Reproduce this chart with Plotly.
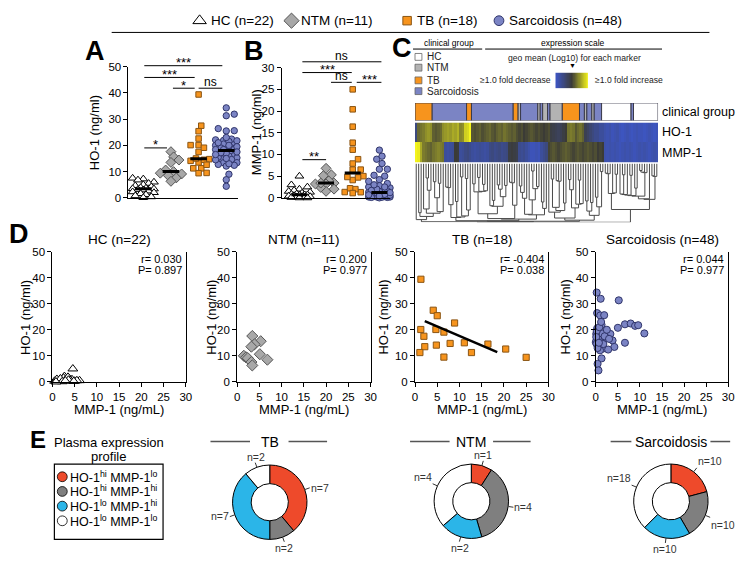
import numpy as np
import plotly.graph_objects as go

W, H = 751, 564
FONT = 'Liberation Sans, Arial, sans-serif'

# ---------------- data ----------------
groups = ['HC', 'NTM', 'TB', 'Sarcoidosis']
group_n = [22, 11, 18, 48]

# Panel A/B strip values (HC)
ho1_hc_strip = [7.5, 7.2, 6.8, 6.0, 5.5, 5.0, 4.6, 4.2, 3.9, 3.7, 3.5, 3.4, 3.2, 3.0, 2.6, 2.3, 2.0, 1.6, 1.2, 0.8, 0.4, 0.1]
mmp1_hc_strip = [5.0, 3.0, 2.5, 2.0, 1.7, 1.5, 1.3, 1.1, 0.9, 0.8, 0.7, 0.7, 0.6, 0.5, 0.4, 0.3, 0.3, 0.2, 0.1, 0.1, 0.0, 0.0]
# Panel D HC correlation values
mmp1_hc_corr = [4.6, 2.7, 1.5, 3.8, 4.4, 6.1, 0.5, 1.0, 2.0, 2.5, 3.0, 3.3, 3.5, 4.0, 5.0, 5.5, 1.8, 2.2, 3.6, 4.8, 0.8, 2.9]
ho1_hc_corr = [5.0, 2.1, 0.6, 1.25, 0.9, 0.5, 0.3, 1.0, 0.2, 1.5, 0.8, 0.4, 1.8, 0.6, 0.3, 0.5, 1.2, 0.1, 0.7, 0.2, 0.0, 0.4]

ho1_ntm = [17.6, 15.6, 14.4, 13.5, 10.6, 10.0, 9.4, 9.1, 8.5, 7.6, 6.3]
mmp1_ntm = [3.4, 5.3, 3.9, 3.2, 5.1, 1.5, 2.0, 2.4, 6.8, 3.2, 3.4]

ho1_tb = [39.4, 27.5, 25.4, 20.1, 20.1, 22.6, 17.5, 19.1, 13.5, 11.25, 14.1, 14.75, 9.5, 15.0, 11.25, 14.5, 12.6, 9.4]
mmp1_tb = [1.33, 4.1, 5.0, 1.3, 4.7, 8.9, 2.0, 6.5, 2.2, 1.1, 4.8, 7.9, 6.5, 11.1, 12.7, 16.4, 20.4, 25.0]
tb_fit_x = [2.2, 18.5]
tb_fit_y = [23.3, 11.4]

ho1_sarc = [34.3, 31.9, 31.3, 26.4, 25.5, 25.6, 21.9, 20.5, 20.75, 22.1, 22.4, 21.5, 21.75, 18.6, 20.0, 19.0,
            19.0, 18.4, 18.4, 17.75, 16.75, 16.1, 16.1, 15.9, 15.25, 15.0, 15.5, 14.6, 13.4, 13.4, 12.75, 12.4,
            12.1, 9.0, 6.9, 4.4, 17.0, 18.5, 19.5, 17.5, 21.0, 14.5, 13.0, 20.0, 23.0, 17.2, 16.5, 15.0]
mmp1_sarc = [0.2, 1.1, 5.2, 0.3, 1.0, 1.9, 1.3, 0.3, 5.0, 6.6, 7.9, 8.9, 9.6, 11.0, 0.6, 0.8,
             2.3, 3.3, 0.1, 1.3, 2.5, 0.2, 1.1, 3.8, 0.0, 6.6, 0.9, 0.15, 4.2, 0.6, 1.6, 2.8,
             0.95, 1.3, 0.4, 0.6, 0.5, 1.5, 0.2, 2.0, 0.8, 1.7, 0.4, 2.5, 1.2, 0.1, 3.0, 0.7]

corr_r = ['0.030', '0.200', '-0.404', '0.044']
corr_p = ['0.897', '0.977', '0.038', '0.977']

sig_a_labels = ['***', '***', '*', 'ns', '*']
sig_b_labels = ['ns', '***', 'ns', '***', '**']

# Heatmap (panel C)
run_groups = ['TB', 'Sarcoidosis', 'TB', 'Sarcoidosis', 'TB', 'NTM', 'Sarcoidosis', 'NTM', 'Sarcoidosis', 'NTM',
              'Sarcoidosis', 'NTM', 'TB', 'Sarcoidosis', 'NTM', 'Sarcoidosis', 'NTM', 'Sarcoidosis', 'HC',
              'Sarcoidosis', 'HC']
run_counts = [7, 14, 2, 17, 2, 1, 7, 1, 1, 2, 1, 5, 7, 2, 1, 2, 1, 3, 12, 1, 10]

hm_ho1 = [-0.5, 0.25, 0.3, 0.35, 0.45, 0.5, 0.45, 0.2, 0.15, 0.2, 0.25, 0.45, 0.5, 0.55, 0.5, 0.6, 0.55, 0.65,
          0.4, 0.45, 0.8, 0.85, 1.0,
          0.15, 0.1, 0.15, 0.2, 0.1, 0.15, 0.2, 0.25, 0.15, 0.1, 0.2,
          0.25, 0.2, 0.3, 0.25, 0.2, 0.15, 0.2,
          0.1, 0.05, 0.1, 0.0, 0.05, 0.1, 0.15, 0.1, 0.05, 0.1,
          0.05, 0.0, 0.05, 0.1, -0.1, -0.15, -0.2, -0.25, -0.2, -0.1, 0.0,
          0.3, 0.35, 0.3, 0.15, 0.25, 0.3, 0.2,
          -0.2, -0.3, -0.4, -0.5, -0.6, -0.6, -0.7, -0.7,
          -0.8, -0.85, -0.8, -0.9, -0.85, -0.8, -0.9, -0.95, -0.9, -0.85, -0.9, -0.95, -0.9, -0.85, -0.9,
          -0.9, -0.95, -0.9, -0.85, -0.9, -0.95, -0.9]
hm_mmp1 = [1.0, 0.95, 0.6,
           0.35, 0.3, 0.25, 0.2, 0.3, 0.35, 0.4, 0.35, 0.3,
           -0.7, -0.75, -0.7, -0.65,
           0.0, -0.05,
           -0.7, -0.65, -0.55, -0.5, -0.6, -0.7, -0.75, -0.7, -0.65, -0.7, -0.75, -0.7,
           -0.55, -0.5, -0.6, -0.55, -0.5, -0.6, -0.55, -0.5,
           -0.1, -0.05, -0.1, -0.15,
           -0.6, -0.65, -0.6, -0.7, -0.8, -0.9, -0.9, -0.85, -0.9, -0.7, -0.6, -0.5,
           0.05, 0.1, 0.15, 0.1, 0.05, 0.1, 0.15, 0.2, 0.15, 0.1, 0.05, 0.1, 0.15, 0.1, 0.05, 0.1, 0.15, 0.1,
           0.05, 0.1, 0.0, 0.05, 0.0,
           -0.8, -0.85, -0.8, -0.85, -0.8, -0.85, -0.9, -0.85, -0.8, -0.85, -0.8, -0.85, -0.9, -0.85, -0.8,
           -0.85, -0.8, -0.85, -0.9, -0.85, -0.8, -0.85]

# Panel E
profile_labels = ['HO-1<sup>hi</sup> MMP-1<sup>lo</sup>', 'HO-1<sup>hi</sup> MMP-1<sup>hi</sup>',
                  'HO-1<sup>lo</sup> MMP-1<sup>hi</sup>', 'HO-1<sup>lo</sup> MMP-1<sup>lo</sup>']
profile_colors = ['#ee4a2b', '#7f7f7f', '#2bb5e8', '#ffffff']
pie_groups = ['TB', 'NTM', 'Sarcoidosis']
pie_tb = [7, 2, 7, 2]
pie_ntm = [1, 4, 2, 4]
pie_sarc = [10, 10, 10, 18]

# ---------------- styles ----------------
C_OR, C_OR_E = '#f7941d', '#8a5514'
C_SA, C_SA_E = '#7b84c4', '#30356a'
C_NT, C_NT_E = '#a8a8a8', '#555555'
group_style = {
    'HC': dict(symbol='triangle-up', color='white', line=dict(color='black', width=1), size=9),
    'NTM': dict(symbol='diamond', color=C_NT, line=dict(color=C_NT_E, width=1), size=9),
    'TB': dict(symbol='square', color=C_OR, line=dict(color=C_OR_E, width=1), size=6.5),
    'Sarcoidosis': dict(symbol='circle', color=C_SA, line=dict(color=C_SA_E, width=1), size=7.5),
}
bar_colors = {'HC': '#ffffff', 'NTM': '#b3b3b3', 'TB': C_OR, 'Sarcoidosis': C_SA}


def xd(a, b):
    return [a / W, b / W]


def yd(top, bottom):
    return [1 - bottom / H, 1 - top / H]


fig = go.Figure()
ann = []
shapes = []


def txt(x, y, s, size=12, xa='center', ya='middle', color='black', bold=False, angle=0):
    if bold:
        s = '<b>' + s + '</b>'
    ann.append(dict(x=x, y=y, xref='x11', yref='y11', text=s, showarrow=False, textangle=angle,
                    font=dict(size=size, color=color, family=FONT), xanchor=xa, yanchor=ya))


def line(x0, y0, x1, y1, color='black', w=1):
    shapes.append(dict(type='line', x0=x0, y0=y0, x1=x1, y1=y1, xref='x11', yref='y11',
                       line=dict(color=color, width=w)))


def swarm(vals, ppu_y, d, maxoff):
    vals = np.asarray(vals, float)
    order = np.argsort(vals)
    placed = []
    offs = np.zeros(len(vals))
    cands = [0.0]
    step = d * 0.45
    k = 1
    while k * step <= maxoff:
        cands += [k * step, -k * step]
        k += 1
    for i in order:
        y = vals[i] * ppu_y
        best, bestscore = 0.0, -1
        for c in cands:
            md = min([np.hypot(c - px, y - py) for px, py in placed] + [1e9])
            if md >= d:
                best = c
                break
            if md > bestscore:
                bestscore, best = md, c
        offs[i] = best
        placed.append((best, y))
    return offs


# ---------------- Panels A & B ----------------
strip_sets = {
    'A': [ho1_hc_strip, ho1_ntm, ho1_tb, ho1_sarc],
    'B': [mmp1_hc_strip, mmp1_ntm, mmp1_tb, mmp1_sarc],
}
panel_ax = {'A': ('x', 'y', 134 / 50, 28.0), 'B': ('x2', 'y2', 133 / 30, 27.0)}
for p in ['A', 'B']:
    xa_, ya_, ppu_y, ppu_x = panel_ax[p]
    for c, (g, vals) in enumerate(zip(groups, strip_sets[p])):
        offs = swarm(vals, ppu_y, 6.0, 11) / ppu_x
        st = group_style[g]
        fig.add_trace(go.Scatter(x=c + offs, y=vals, mode='markers', xaxis=xa_, yaxis=ya_,
                                 marker=dict(symbol=st['symbol'], color=st['color'], line=st['line'],
                                             size=st['size'] * 0.85), cliponaxis=False, hoverinfo='skip'))
    for c, vals in enumerate(strip_sets[p]):
        med = float(np.median(vals))
        fig.add_trace(go.Scatter(x=[c - 0.3, c + 0.3], y=[med, med], mode='lines', xaxis=xa_, yaxis=ya_,
                                 line=dict(color='black', width=3), cliponaxis=False, hoverinfo='skip'))

# significance bars (pixel positions)
sig_a_geom = [(143, 222, 61), (143, 194, 73), (172, 194, 84), (198, 222, 84), (143, 166, 145)]
sig_b_geom = [(303, 383, 57), (303, 353, 68), (332, 353, 78), (358, 383, 78), (303, 327, 157)]
for labels, geom in [(sig_a_labels, sig_a_geom), (sig_b_labels, sig_b_geom)]:
    for lab, (x0, x1, y) in zip(labels, geom):
        line(x0, y, x1, y, w=1)
        if lab == 'ns':
            txt((x0 + x1) / 2, y - 6, lab, size=12)
        else:
            txt((x0 + x1) / 2, y - 3, lab, size=13)

# ---------------- Panel C ----------------
starts = np.cumsum([0] + run_counts[:-1])
fig.add_trace(go.Bar(x=[s + n / 2 - 0.5 for s, n in zip(starts, run_counts)], y=[1] * len(run_counts),
                     width=run_counts, base=0, xaxis='x3', yaxis='y3',
                     marker=dict(color=[bar_colors[g] for g in run_groups], line=dict(color='#3a3a4a', width=1)),
                     hoverinfo='skip'))
cscale = [[0, '#3d56c6'], [0.5, '#3b3b36'], [1, '#f4f41c']]
fig.add_trace(go.Heatmap(z=[hm_mmp1, hm_ho1], x=list(range(len(hm_ho1))), y=[0, 1], colorscale=cscale,
                         zmin=-1, zmax=1, showscale=False, xaxis='x4', yaxis='y4', hoverinfo='skip'))
# color scale legend gradient
fig.add_trace(go.Heatmap(z=[list(np.linspace(-1, 1, 60))], colorscale=cscale, zmin=-1, zmax=1, showscale=False,
                         xaxis='x6', yaxis='y6', hoverinfo='skip'))

# dendrogram via adjacency-constrained Ward clustering of the heatmap columns (height = merge order)
feats = np.column_stack([hm_ho1, hm_mmp1])
clusters = [dict(x=float(i), h=0.0, n=1, c=feats[i]) for i in range(len(feats))]
dx, dy = [], []
step = 0
while len(clusters) > 1:
    bj, bd = 0, np.inf
    for j in range(len(clusters) - 1):
        a, b = clusters[j], clusters[j + 1]
        d = np.sqrt(2 * a['n'] * b['n'] / (a['n'] + b['n'])) * np.linalg.norm(a['c'] - b['c'])
        if d < bd:
            bj, bd = j, d
    a, b = clusters[bj], clusters[bj + 1]
    step += 1
    h = step + 12.0
    dx += [a['x'], a['x'], b['x'], b['x'], None]
    dy += [a['h'], h, h, b['h'], None]
    clusters[bj:bj + 2] = [dict(x=(a['x'] + b['x']) / 2, h=h, n=a['n'] + b['n'],
                                c=(a['c'] * a['n'] + b['c'] * b['n']) / (a['n'] + b['n']))]
hmax = clusters[0]['h']
fig.add_trace(go.Scatter(x=dx, y=dy, mode='lines', xaxis='x5', yaxis='y5',
                         line=dict(color='#4a4a4a', width=1), hoverinfo='skip'))

# ---------------- Panel D ----------------
corr_sets = [(mmp1_hc_corr, ho1_hc_corr), (mmp1_ntm, ho1_ntm), (mmp1_tb, ho1_tb), (mmp1_sarc, ho1_sarc)]
for k, (g, (xv, yv)) in enumerate(zip(groups, corr_sets)):
    st = group_style[g]
    fig.add_trace(go.Scatter(x=xv, y=yv, mode='markers', xaxis='x%d' % (7 + k), yaxis='y%d' % (7 + k),
                             marker=dict(symbol=st['symbol'], color=st['color'], line=st['line'],
                                         size=st['size'] * 0.95),
                             cliponaxis=False, hoverinfo='skip'))
fig.add_trace(go.Scatter(x=tb_fit_x, y=tb_fit_y, mode='lines', xaxis='x9', yaxis='y9',
                         line=dict(color='black', width=2.5), hoverinfo='skip'))

# ---------------- Panel E pies ----------------
pie_centers = [(270, 507), (474, 506), (676, 506)]
R = 38
for g, vals, (cx, cy) in zip(pie_groups, [pie_tb, pie_ntm, pie_sarc], pie_centers):
    fig.add_trace(go.Pie(values=vals, labels=['p1', 'p2', 'p3', 'p4'], sort=False, direction='clockwise',
                         rotation=0, hole=0.5, textinfo='none', hoverinfo='skip', showlegend=False,
                         marker=dict(colors=profile_colors, line=dict(color='black', width=1)),
                         domain=dict(x=xd(cx - R, cx + R), y=yd(cy - R, cy + R))))
    tot = float(sum(vals))
    cum = 0.0
    for v in vals:
        th = 2 * np.pi * (cum + v / 2) / tot
        cum += v
        sx, sy = np.sin(th), -np.cos(th)
        line(cx + R * sx, cy + R * sy, cx + (R + 5) * sx, cy + (R + 5) * sy, color='#333', w=1)
        xa = 'left' if sx > 0.35 else ('right' if sx < -0.35 else 'center')
        ya = 'top' if sy > 0.35 else ('bottom' if sy < -0.35 else 'middle')
        txt(cx + (R + 4) * sx, cy + (R + 3) * sy, 'n=%d' % v, size=10.5, xa=xa, ya=ya, color='#333')

# ---------------- overlay decorations ----------------
# top legend
leg_x = [199, 292, 409, 502]
leg_tx = [208, 300, 417, 510]
for g, n, mx, tx in zip(groups, group_n, leg_x, leg_tx):
    st = group_style[g]
    fig.add_trace(go.Scatter(x=[mx], y=[15], mode='markers', xaxis='x11', yaxis='y11', cliponaxis=False,
                             marker=dict(symbol=st['symbol'], color=st['color'], line=st['line'],
                                         size=st['size'] * 1.3), hoverinfo='skip'))
    txt(tx, 15, '%s (n=%d)' % (g, n), size=13.5, xa='left')
line(110, 27, 715, 27, w=1)

# panel letters
for L, x, y, s in [('A', 93, 46, 27), ('B', 254, 46, 27), ('C', 404, 43, 27), ('D', 16, 233, 27), ('E', 35, 443, 24)]:
    txt(x, y, L, size=s, bold=True)

# A/B axis titles
txt(92, 129, 'HO-1 (ng/ml)', size=13, angle=-90)
txt(256, 129, 'MMP-1 (ng/ml)', size=13, angle=-90)

# C legend
txt(451, 38, 'clinical group', size=8.5)
line(415, 44, 485, 44)
txt(577, 38, 'expression scale', size=8.5)
line(488, 44, 667, 44)
for g, yy, lab in zip(groups, [52, 63, 76, 87], ['HC', 'NTM', 'TB', 'Sarcoidosis']):
    shapes.append(dict(type='rect', x0=417, x1=424, y0=yy - 3.5, y1=yy + 3.5, xref='x11', yref='y11',
                       fillcolor=bar_colors[g], line=dict(color='#666', width=0.8)))
    txt(427, yy, lab, size=10, xa='left', color='#222')
txt(578, 53, 'geo mean (Log10) for each marker', size=8.6, color='#222')
txt(576, 61, '▼', size=7)
txt(557, 76, '≥1.0 fold decrease', size=8.6, xa='right', color='#222')
txt(597, 76, '≥1.0 fold increase', size=8.6, xa='left', color='#222')
txt(665, 108, 'clinical group', size=12.5, xa='left')
txt(665, 129, 'HO-1', size=12.5, xa='left')
txt(665, 150, 'MMP-1', size=12.5, xa='left')

# D titles and labels
d_left = [50, 237, 417, 600]
d_right = [185, 372, 552, 734]
d_ytitle_x = [23, 211, 385, 569]
for k, g in enumerate(groups):
    cxm = (d_left[k] + d_right[k]) / 2
    txt(cxm, 239, '%s (n=%d)' % (g, group_n[k]), size=13.5)
    txt(d_right[k] - 2, 258, 'r= ' + corr_r[k], size=11, xa='right')
    txt(d_right[k] - 2, 270, 'P= ' + corr_p[k], size=11, xa='right')
    txt(d_ytitle_x[k], 318, 'HO-1 (ng/ml)', size=13, angle=-90)
    txt(cxm, 412, 'MMP-1 (ng/mL)', size=13)

# E legend
txt(107, 446, 'Plasma expression', size=13)
txt(107, 460, 'profile', size=13)
shapes.append(dict(type='rect', x0=52, x1=162, y0=468, y1=545, xref='x11', yref='y11',
                   line=dict(color='black', width=1.2)))
for lab, col, yy in zip(profile_labels, profile_colors, [481, 496, 511, 526]):
    shapes.append(dict(type='circle', x0=55, x1=65, y0=yy - 5, y1=yy + 5, xref='x11', yref='y11',
                       fillcolor=col, line=dict(color='black', width=0.8)))
    txt(66, yy, lab, size=12.5, xa='left')
# pie titles
for g, (cx, cy), (l0, l1, r0, r1) in zip(pie_groups, pie_centers,
                                          [(210, 250, 289, 328), (412, 452, 496, 534), (615, 636, 716, 736)]):
    txt(cx, 445, g, size=14)
    line(l0, 445, l1, 445, color='#555', w=1.5)
    line(r0, 445, r1, 445, color='#555', w=1.5)

# ---------------- layout ----------------
base_ax = dict(showline=True, linecolor='black', linewidth=1, ticks='outside', ticklen=4, tickwidth=1,
               tickcolor='black', showgrid=False, zeroline=False, tickfont=dict(size=11.5, family=FONT, color='black'))
hidden = dict(visible=False, showgrid=False, zeroline=False)

layout = dict(width=W, height=H, margin=dict(l=0, r=0, t=0, b=0), paper_bgcolor='white',
              plot_bgcolor='rgba(0,0,0,0)', showlegend=False, font=dict(family=FONT, color='black'))
layout['xaxis'] = dict(base_ax, domain=xd(127, 238), range=[-0.536, 3.43], showticklabels=False, ticks='', anchor='y')
layout['yaxis'] = dict(base_ax, domain=yd(62, 196), range=[0, 50], dtick=10, anchor='x')
layout['xaxis2'] = dict(base_ax, domain=xd(282, 392), range=[-0.667, 3.41], showticklabels=False, ticks='', anchor='y2')
layout['yaxis2'] = dict(base_ax, domain=yd(63, 196), range=[0, 30], dtick=5, anchor='x2')
layout['xaxis3'] = dict(hidden, domain=xd(417, 663), range=[-0.5, 98.5], anchor='y3')
layout['yaxis3'] = dict(hidden, domain=yd(99, 117), range=[0, 1], anchor='x3')
layout['xaxis4'] = dict(hidden, domain=xd(417, 663), range=[-0.5, 98.5], anchor='y4')
layout['yaxis4'] = dict(hidden, domain=yd(119, 160), range=[-0.5, 1.5], anchor='x4')
layout['xaxis5'] = dict(hidden, domain=xd(417, 663), range=[-0.5, 98.5], anchor='y5')
layout['yaxis5'] = dict(hidden, domain=yd(161, 221), range=[hmax, 0], anchor='x5')
layout['xaxis6'] = dict(hidden, domain=xd(559, 592), anchor='y6')
layout['yaxis6'] = dict(hidden, domain=yd(68, 84), anchor='x6')
for k in range(4):
    layout['xaxis%d' % (7 + k)] = dict(base_ax, domain=xd(d_left[k], d_right[k]), range=[0, 30], dtick=5,
                                        anchor='y%d' % (7 + k))
    layout['yaxis%d' % (7 + k)] = dict(base_ax, domain=yd(251, 384), range=[0, 50], dtick=10, mirror=True,
                                        anchor='x%d' % (7 + k))
layout['xaxis11'] = dict(hidden, domain=[0, 1], range=[0, W], anchor='y11')
layout['yaxis11'] = dict(hidden, domain=[0, 1], range=[H, 0], anchor='x11')
layout['annotations'] = ann
layout['shapes'] = shapes
fig.update_layout(**layout)
fig.write_html('out.html', config={'displayModeBar': False},
               post_script="document.body.style.margin='0';document.body.style.padding='0';")
